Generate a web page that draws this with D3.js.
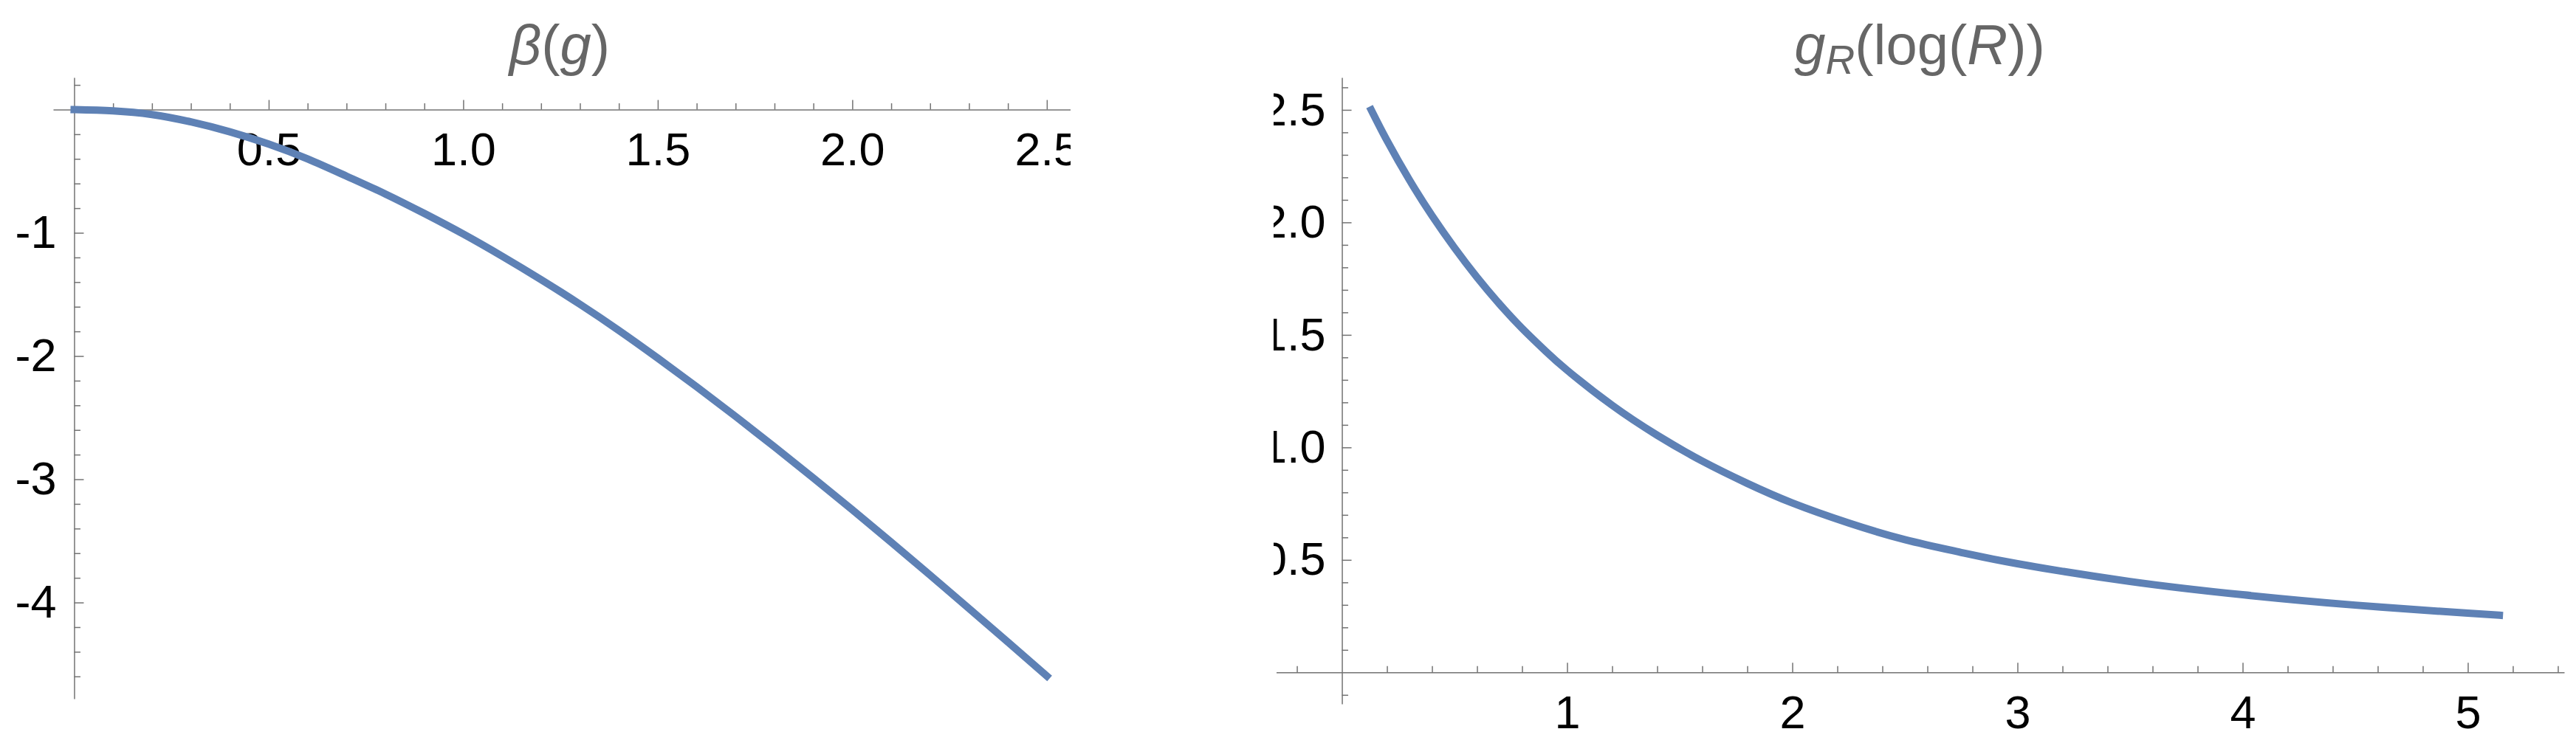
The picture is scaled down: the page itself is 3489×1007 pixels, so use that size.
<!DOCTYPE html>
<meta charset="utf-8">
<style>
body { margin: 0; background: #fff; }
text { font-family: "Liberation Sans", Arial, sans-serif; }
</style>
<script src="https://d3js.org/d3.v7.min.js"></script>

<div id="my_dataviz"></div>

<script>

// beta(g)
var betaG    = [0, 0.1, 0.2, 0.3, 0.4, 0.5, 0.6, 0.7, 0.8, 0.9, 1.0, 1.1, 1.2, 1.3, 1.4, 1.5, 1.6, 1.7, 1.8, 1.9, 2.0, 2.1, 2.2, 2.3, 2.4, 2.5];
var betaVals = [0, -0.01, -0.04, -0.10, -0.18, -0.28, -0.40, -0.54, -0.685, -0.843, -1.01, -1.19, -1.38, -1.58, -1.792, -2.017, -2.25, -2.49, -2.737, -2.99, -3.248, -3.511, -3.778, -4.049, -4.322, -4.597];

// g_R(log R)
var logR   = [0.13, 0.2, 0.3, 0.4, 0.5, 0.6, 0.7, 0.8, 0.9, 1.0, 1.2, 1.4, 1.6, 1.8, 2.0, 2.25, 2.5, 2.75, 3.0, 3.5, 4.0, 4.5, 5.0, 5.14];
var gRVals = [2.50, 2.364, 2.188, 2.030, 1.887, 1.756, 1.637, 1.529, 1.432, 1.343, 1.187, 1.054, 0.939, 0.840, 0.753, 0.664, 0.590, 0.533, 0.483, 0.404, 0.345, 0.299, 0.263, 0.254];

// tick values
var leftXMajor  = [0.5, 1.0, 1.5, 2.0, 2.5];
var leftXMinor  = [0.1, 0.2, 0.3, 0.4, 0.6, 0.7, 0.8, 0.9, 1.1, 1.2, 1.3, 1.4, 1.6, 1.7, 1.8, 1.9, 2.1, 2.2, 2.3, 2.4];
var leftYMajor  = [-1, -2, -3, -4];
var leftYMinor  = [0.2, -0.2, -0.4, -0.6, -0.8, -1.2, -1.4, -1.6, -1.8, -2.2, -2.4, -2.6, -2.8, -3.2, -3.4, -3.6, -3.8, -4.2, -4.4, -4.6];
var rightXMajor = [1, 2, 3, 4, 5];
var rightXMinor = [-0.2, 0.2, 0.4, 0.6, 0.8, 1.2, 1.4, 1.6, 1.8, 2.2, 2.4, 2.6, 2.8, 3.2, 3.4, 3.6, 3.8, 4.2, 4.4, 4.6, 4.8, 5.2, 5.4];
var rightYMajor = [0.5, 1.0, 1.5, 2.0, 2.5];
var rightYMinor = [-0.1, 0.1, 0.2, 0.3, 0.4, 0.6, 0.7, 0.8, 0.9, 1.1, 1.2, 1.3, 1.4, 1.6, 1.7, 1.8, 1.9, 2.1, 2.2, 2.3, 2.4, 2.6];

var W = 3489, H = 1007;
var lineColor = "#5e81b5", axisColor = "#737373", titleColor = "#666666";

var svg = d3.select("#my_dataviz")
  .append("svg")
    .attr("width", W)
    .attr("height", H);

var defs = svg.append("defs");
defs.append("clipPath").attr("id", "clipL")
  .append("rect").attr("x", 0).attr("y", 0).attr("width", 1450).attr("height", H);
defs.append("clipPath").attr("id", "clipR")
  .append("rect").attr("x", 1725).attr("y", 0).attr("width", W - 1725).attr("height", H);

// draws one mathematica-style panel: axes crossing at the origin, ticks pointing inwards
function drawPanel(opt) {
  var g = svg.append("g").attr("clip-path", "url(#" + opt.clip + ")");

  var x = opt.x, y = opt.y;

  // x axis: minor ticks, then major ticks with labels
  g.append("g")
    .attr("transform", "translate(0," + y(0) + ")")
    .call(d3.axisBottom(x).tickValues(opt.xMinor).tickSizeInner(-8.5).tickSizeOuter(0).tickFormat(""))
    .call(function(a) { a.select(".domain").remove(); });
  g.append("g")
    .attr("transform", "translate(0," + y(0) + ")")
    .call(d3.axisBottom(x).tickValues(opt.xMajor).tickSizeInner(-13).tickSizeOuter(0)
      .tickPadding(31).tickFormat(opt.xFormat));

  // y axis
  g.append("g")
    .attr("transform", "translate(" + x(0) + ",0)")
    .call(d3.axisLeft(y).tickValues(opt.yMinor).tickSizeInner(-8.5).tickSizeOuter(0).tickFormat(""))
    .call(function(a) { a.select(".domain").remove(); });
  g.append("g")
    .attr("transform", "translate(" + x(0) + ",0)")
    .call(d3.axisLeft(y).tickValues(opt.yMajor).tickSizeInner(-13).tickSizeOuter(0)
      .tickPadding(opt.yPad).tickFormat(opt.yFormat));

  g.selectAll(".domain, .tick line")
    .attr("stroke", axisColor)
    .attr("stroke-width", 1.5);
  g.selectAll(".tick text")
    .attr("fill", "#000")
    .style("font-size", "63px")
    .style("font-family", "'Liberation Sans', Arial, sans-serif");

  // the curve
  var pts = opt.xs.map(function(v, i) { return [v, opt.ys[i]]; });
  g.append("path")
    .datum(pts)
    .attr("fill", "none")
    .attr("stroke", lineColor)
    .attr("stroke-width", 10)
    .attr("stroke-linecap", "square")
    .attr("d", d3.line()
      .x(function(d) { return x(d[0]); })
      .y(function(d) { return y(d[1]); })
      .curve(d3.curveNatural));

  return g;
}

// Left panel: beta(g)
var xL = d3.scaleLinear().domain([-0.054, 2.561]).range([72, 1450]);
var yL = d3.scaleLinear().domain([0.2605, -4.781]).range([105, 947]);
drawPanel({
  clip: "clipL", x: xL, y: yL,
  xMajor: leftXMajor, xMinor: leftXMinor, yMajor: leftYMajor, yMinor: leftYMinor,
  xFormat: d3.format(".1f"), yFormat: function(d) { return String(d); }, yPad: 24,
  xs: betaG, ys: betaVals
});

// Right panel: g_R(log R)
var xR = d3.scaleLinear().domain([-0.292, 5.428]).range([1728.5, 3473]);
var yR = d3.scaleLinear().domain([2.644, -0.14]).range([105, 954]);
drawPanel({
  clip: "clipR", x: xR, y: yR,
  xMajor: rightXMajor, xMinor: rightXMinor, yMajor: rightYMajor, yMinor: rightYMinor,
  xFormat: d3.format("d"), yFormat: d3.format(".1f"), yPad: 22,
  xs: logR, ys: gRVals
});

// Titles
var tL = svg.append("text")
  .attr("x", 758).attr("y", 87)
  .attr("text-anchor", "middle")
  .attr("fill", titleColor)
  .style("font-size", "76px");
tL.append("tspan").style("font-style", "italic").text("β");
tL.append("tspan").text("(");
tL.append("tspan").style("font-style", "italic").text("g");
tL.append("tspan").text(")");

var tR = svg.append("text")
  .attr("x", 2600).attr("y", 87)
  .attr("text-anchor", "middle")
  .attr("fill", titleColor)
  .style("font-size", "76px");
tR.append("tspan").style("font-style", "italic").text("g");
tR.append("tspan").style("font-style", "italic").style("font-size", "55px").attr("dy", 13).text("R");
tR.append("tspan").attr("dy", -13).text("(log(");
tR.append("tspan").style("font-style", "italic").text("R");
tR.append("tspan").text("))");

</script>
